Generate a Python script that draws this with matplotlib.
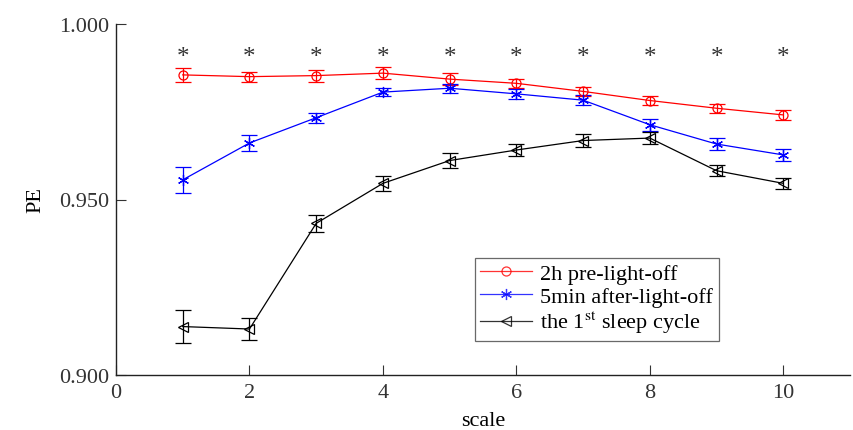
import numpy as np
import matplotlib
matplotlib.use("Agg")
import matplotlib.pyplot as plt

plt.rcParams["font.family"] = ["Liberation Serif", "DejaVu Serif"]
plt.rcParams["mathtext.fontset"] = "stix"

# --- data ---
scale = [1, 2, 3, 4, 5, 6, 7, 8, 9, 10]

pe_pre = [0.9855, 0.9850, 0.9853, 0.9860, 0.9843, 0.9831, 0.9808, 0.9782, 0.9760, 0.9741]
err_pre = [0.0021, 0.0014, 0.0017, 0.0017, 0.0016, 0.0013, 0.0013, 0.0014, 0.0013, 0.0014]

pe_after = [0.9556, 0.9661, 0.9733, 0.9806, 0.9817, 0.9801, 0.9783, 0.9713, 0.9658, 0.9627]
err_after = [0.0037, 0.0024, 0.0014, 0.0012, 0.0013, 0.0014, 0.0015, 0.0017, 0.0017, 0.0018]

pe_cycle = [0.9138, 0.9131, 0.9432, 0.9546, 0.9611, 0.9641, 0.9668, 0.9675, 0.9582, 0.9546]
err_cycle = [0.0048, 0.0030, 0.0025, 0.0021, 0.0021, 0.0018, 0.0018, 0.0018, 0.0015, 0.0015]

star_y = 0.9906
labels = ["2h pre-light-off", "5min after-light-off", "the 1$^{\\mathrm{st}}$ sleep cycle"]

fig = plt.figure(figsize=(8.54, 4.31), dpi=100)
ax = fig.add_axes([116 / 854, 55 / 431, 734 / 854, 351 / 431])

asterisk = (6, 2, 0)
series = [
    (pe_pre, err_pre, "red", "o", 6.5),
    (pe_after, err_after, "blue", asterisk, 8),
    (pe_cycle, err_cycle, "black", "<", 6.5),
]
handles = []
for (y, e, c, m, ms), lab in zip(series, labels):
    h = ax.errorbar(scale, y, yerr=e, color=c, marker=m, ms=ms, mfc="none",
                    mec=c, mew=0.9, lw=0.9, elinewidth=0.9, capsize=5.5,
                    capthick=0.9, label=lab)
    handles.append(h[0])

for x in scale:
    ax.text(x, star_y, "*", ha="center", va="center", fontsize=18, color="#333333")

ax.set_xlim(0, 11)
ax.set_ylim(0.9, 1.0)
ax.set_xticks([0, 2, 4, 6, 8, 10])
ax.set_yticks([0.9, 0.95, 1.0])
ax.set_yticklabels(["0.900", "0.950", "1.000"])
ax.tick_params(direction="in", labelsize=16, length=7, width=0.8, color="#333333",
               labelcolor="#333333")
ax.tick_params(axis="x", pad=6)
ax.tick_params(axis="y", pad=5)
for s in ["top", "right"]:
    ax.spines[s].set_visible(False)
for s in ["left", "bottom"]:
    ax.spines[s].set_linewidth(1.0)
    ax.spines[s].set_color("#222222")

ax.set_xlabel("scale", fontsize=16, labelpad=6)
ax.set_ylabel("PE", fontsize=16, labelpad=10)

leg = ax.legend(handles, labels, loc="upper left", bbox_to_anchor=(0.489, 0.333),
                fontsize=16, frameon=True, fancybox=False, edgecolor="#444444",
                handlelength=2.3, handletextpad=0.4, borderpad=0.25,
                labelspacing=0.1, borderaxespad=0)
leg.get_frame().set_linewidth(0.9)
for h in leg.legend_handles:
    h.set_alpha(0.8)

plt.savefig("out.png", dpi=100)
